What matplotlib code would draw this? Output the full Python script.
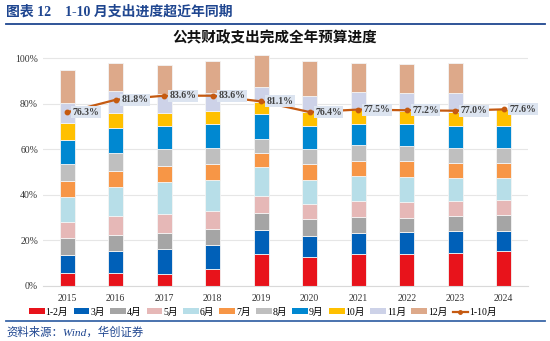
import matplotlib
matplotlib.use("Agg")
import matplotlib.pyplot as plt
import numpy as np
from matplotlib.patches import Patch
from matplotlib.lines import Line2D

plt.rcParams['font.family'] = ['Liberation Serif', 'Noto Sans CJK SC', 'DejaVu Sans']

years = ['2015', '2016', '2017', '2018', '2019', '2020', '2021', '2022', '2023', '2024']

# monthly spending as share of annual budget (%)
m_1_2 = [5.8, 5.8, 5.3, 7.3, 14.0, 12.6, 14.0, 14.0, 14.3, 15.1]
m_3 = [7.9, 9.4, 10.8, 10.5, 10.6, 9.5, 9.2, 9.5, 9.7, 9.0]
m_4 = [7.1, 7.0, 7.0, 7.1, 7.3, 7.3, 7.1, 6.5, 6.6, 7.0]
m_5 = [7.4, 8.6, 8.6, 8.0, 7.4, 6.7, 6.8, 6.8, 6.5, 6.5]
m_6 = [10.7, 12.6, 13.9, 13.7, 12.9, 10.5, 11.1, 11.2, 10.3, 9.9]
m_7 = [7.4, 7.0, 6.9, 6.8, 6.3, 6.9, 6.6, 6.7, 6.4, 6.6]
m_8 = [7.1, 7.9, 7.6, 7.1, 6.1, 6.6, 6.9, 6.7, 7.0, 6.4]
m_9 = [10.5, 11.0, 10.2, 10.8, 11.1, 10.2, 9.6, 9.7, 9.5, 9.8]
m_10 = [7.6, 6.6, 5.9, 5.7, 5.3, 6.0, 6.0, 5.9, 6.3, 7.3]
m_11 = [8.9, 9.9, 8.2, 7.8, 6.6, 7.3, 7.9, 7.6, 8.2, 0.0]
m_12 = [14.6, 12.4, 12.7, 14.2, 13.9, 15.4, 13.0, 12.9, 13.2, 0.0]

# cumulative Jan-Oct completion (%)
jan_oct = [76.3, 81.8, 83.6, 83.6, 81.1, 76.4, 77.5, 77.2, 77.0, 77.6]

series_names = ['1-2月', '3月', '4月', '5月', '6月', '7月', '8月', '9月', '10月', '11月', '12月']
series_vals = [m_1_2, m_3, m_4, m_5, m_6, m_7, m_8, m_9, m_10, m_11, m_12]
colors = ['#E8131B', '#0060B8', '#A5A5A5', '#E6B8B7', '#B7DEE8', '#F79646',
          '#BFBFBF', '#0088D1', '#FFC000', '#CDD2E8', '#DDA98A']
line_color = '#C55A11'

fig = plt.figure(figsize=(5.5, 3.41), dpi=100)
ax = fig.add_axes([0.078, 0.162, 0.882, 0.70])

x = np.arange(len(years))
bottom = np.zeros(len(years))
for name, vals, c in zip(series_names, series_vals, colors):
    v = np.array(vals) / 100.0
    ax.bar(x, v, width=0.31, bottom=bottom, color=c, edgecolor='#F4F4F4',
           linewidth=0.6, zorder=2)
    bottom += v

ly = np.array(jan_oct) / 100.0
ax.plot(x, ly, color=line_color, lw=1.6, marker='o', ms=3.2, zorder=4)
for xi, yi, v in zip(x, ly, jan_oct):
    ax.annotate(f'{v:.1f}%', (xi, yi), xytext=(4, 0), textcoords='offset points',
                ha='left', va='center', fontsize=7, fontweight='bold', color='#404040',
                bbox=dict(boxstyle='square,pad=0.15', fc='#DCE4F0', ec='none'), zorder=5)

ax.set_xlim(-0.5, len(years) - 0.5)
ax.set_ylim(0, 1.05)
ax.set_yticks(np.arange(0, 1.01, 0.2))
ax.set_yticklabels([f'{int(round(t * 100))}%' for t in np.arange(0, 1.01, 0.2)])
ax.set_xticks(x)
ax.set_xticklabels(years)
ax.tick_params(axis='both', length=0, labelsize=7, colors='#333333')
ax.tick_params(axis='x', pad=6)
ax.grid(axis='y', color='#E6E6E6', lw=0.8, zorder=0)
for s in ['top', 'right', 'left']:
    ax.spines[s].set_visible(False)
ax.spines['bottom'].set_color('#D9D9D9')

handles = [Patch(facecolor=c, edgecolor='none', label=n) for n, c in zip(series_names, colors)]
handles.append(Line2D([0], [0], color=line_color, lw=1.6, marker='o', ms=2.5, label='1-10月'))
fig.legend(handles=handles, loc='center', bbox_to_anchor=(0.478, 0.085), ncol=12,
           frameon=False, fontsize=7, handlelength=1.6, handleheight=0.45,
           handletextpad=0.1, columnspacing=0.55)

# chart title
fig.text(0.5, 0.887, '公共财政支出完成全年预算进度', ha='center', va='center',
         fontsize=10.5, fontweight='bold', color='#111111')

# header and footer
fig.text(0.010, 0.965, '图表 12    1-10 月支出进度超近年同期', ha='left', va='center',
         fontsize=10, fontweight='bold', color='#1F4690')
fig.add_artist(Line2D([0.01, 0.99], [0.929, 0.929], color='#1F4690', lw=1.3))
fig.add_artist(Line2D([0.01, 0.99], [0.059, 0.059], color='#3A67A8', lw=1.3))
fig.text(0.012, 0.027, '资料来源：Wind，华创证券', ha='left', va='center',
         fontsize=8.2, style='italic', color='#1F4690')

fig.savefig('out.png', dpi=100)
